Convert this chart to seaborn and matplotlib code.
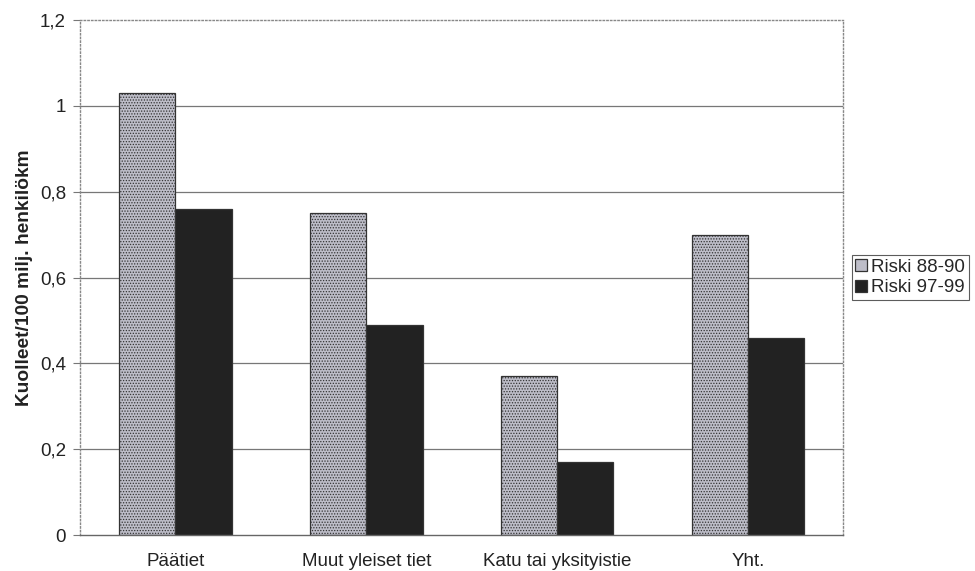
import matplotlib
matplotlib.use("Agg")
import matplotlib.pyplot as plt
import seaborn as sns
import pandas as pd

categories = ["Päätiet", "Muut yleiset tiet", "Katu tai yksityistie", "Yht."]
riski_88_90 = [1.03, 0.75, 0.37, 0.70]
riski_97_99 = [0.76, 0.49, 0.17, 0.46]
series_names = ["Riski 88-90", "Riski 97-99"]
y_ticks = [0, 0.2, 0.4, 0.6, 0.8, 1.0, 1.2]
y_tick_labels = ["0", "0,2", "0,4", "0,6", "0,8", "1", "1,2"]

df = pd.DataFrame({
    "tie": categories * 2,
    "riski": riski_88_90 + riski_97_99,
    "sarja": [series_names[0]] * len(categories) + [series_names[1]] * len(categories),
})

sns.set_theme(style="white")
plt.rcParams["font.family"] = ["Liberation Sans", "DejaVu Sans"]
plt.rcParams["hatch.color"] = "#7e7e8a"
plt.rcParams["hatch.linewidth"] = 0.6

fig = plt.figure(figsize=(9.75, 5.71), dpi=100)
ax = fig.add_axes([0.082, 0.063, 0.783, 0.902])

palette = {series_names[0]: "#bdbdc8", series_names[1]: "#222222"}
sns.barplot(data=df, x="tie", y="riski", hue="sarja", palette=palette,
            width=0.59, gap=0, edgecolor="#333333", linewidth=0.9,
            saturation=1, ax=ax, legend=True)

# fine dotted texture on the earlier period's bars
for bar in ax.containers[0]:
    bar.set_hatch("......")

fs = 13.5
ax.set_ylim(0, 1.2)
ax.set_xlim(-0.5, 3.5)
ax.set_yticks(y_ticks)
ax.set_yticklabels(y_tick_labels, fontsize=fs, color="#222222")
ax.tick_params(axis="x", labelsize=fs, colors="#222222", length=0, pad=13)
ax.tick_params(axis="y", left=True, length=5, width=0.8, color="#777777", pad=5)
ax.set_xlabel("")
ax.set_ylabel("Kuolleet/100 milj. henkilökm", fontsize=13.8, fontweight="bold",
              color="#222222", labelpad=5)

for y in y_ticks[1:-1]:
    ax.axhline(y, color="#777777", linewidth=0.9, zorder=0)

for side in ["top", "left", "right"]:
    ax.spines[side].set_visible(True)
    ax.spines[side].set_color("#888888")
    ax.spines[side].set_linestyle(":")
    ax.spines[side].set_linewidth(1.0)
ax.spines["bottom"].set_color("#666666")
ax.spines["bottom"].set_linewidth(1.0)

leg = ax.legend(loc="center left", bbox_to_anchor=(1.006, 0.5), frameon=True,
                fontsize=fs, handlelength=0.6, handleheight=0.6,
                handletextpad=0.25, borderpad=0.2, labelspacing=0.2,
                borderaxespad=0.2, fancybox=False, edgecolor="#333333")
leg.get_frame().set_linewidth(0.8)
for h in leg.legend_handles:
    h.set_edgecolor("#333333")

fig.savefig("out.png", dpi=100)
